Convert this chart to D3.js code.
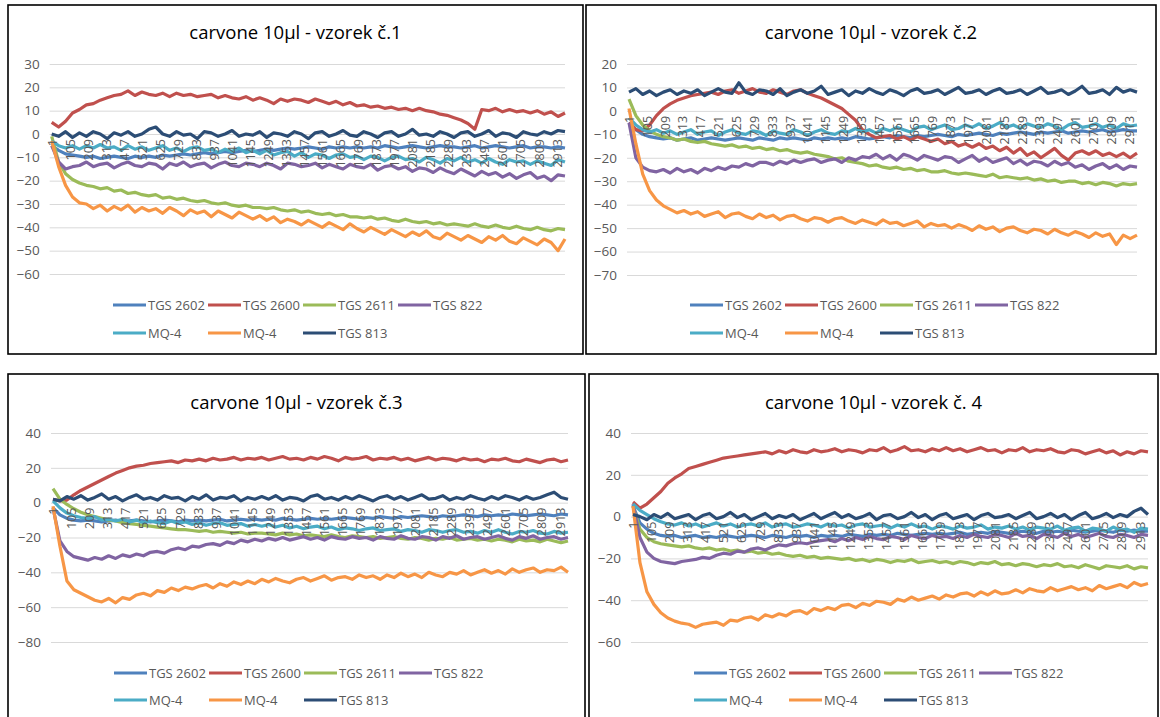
<!DOCTYPE html>
<html>
<head>
<meta charset="utf-8">
<title>carvone 10µl</title>
<script src="https://cdn.jsdelivr.net/npm/d3@7"></script>
<style>
  body { margin: 0; background: #fff; }
  text { font-family: "Open Sans", sans-serif; }
</style>
</head>
<body>
<script>
// series order matches the legend (Excel draws them in this order)
var seriesNames = ["TGS 2602", "TGS 2600", "TGS 2611", "TGS 822", "MQ-4", "MQ-4", "TGS 813"];
var seriesColors = ["#4F81BD", "#C0504D", "#9BBB59", "#8064A2", "#4BACC6", "#F79646", "#2C4D75"];

var xTickLabels = [1, 105, 209, 313, 417, 521, 625, 729, 833, 937, 1041, 1145, 1249, 1353, 1457,
  1561, 1665, 1769, 1873, 1977, 2081, 2185, 2289, 2393, 2497, 2601, 2705, 2809, 2913];
// measurement index of every sampled value (every 40th reading)
var sampleIndex = d3.range(75).map(function (k) { return 1 + 40 * k; });
var lastIndex = 2961;

// ---------- vzorek 1 ----------
var v1_2602 = [-5, -7, -8.5, -9, -9.5, -10, -9.5, -10.5, -10, -9.5, -10, -10.5, -9.5, -10, -9.5,
  -10, -9, -9.5, -9, -8.5, -9, -8.5, -8, -8.5, -8, -7.5, -8, -7.5, -7, -7.5,
  -7, -6.5, -7, -6.5, -6, -6.5, -6, -5.5, -6, -6.5, -5.5, -6, -5.5, -6, -5.5,
  -6, -5.5, -6, -5, -5.5, -6, -5.5, -5, -5.5, -6, -5.5, -5, -5.5, -5.5, -6,
  -5.5, -5, -6, -5.5, -5, -5.5, -6, -5.5, -5, -6, -5.5, -5.5, -6, -5.5, -6];
var v1_2600 = [5, 3, 5.5, 9, 10.5, 12.5, 13, 14.5, 15.5, 16.5, 17, 18.5, 16.5, 18, 17,
  16.5, 17.5, 16, 17.5, 16.5, 17, 16, 16.5, 17, 15.5, 16.5, 15.5, 15, 16, 14.5,
  15.5, 14.5, 13, 15, 14, 15, 14.5, 13.5, 15, 14, 13, 14, 12.5, 13.5, 12,
  12.5, 11.5, 12, 11, 11.5, 10.5, 11, 10, 11, 10, 9.5, 8.5, 8, 7, 6,
  4.5, 2, 10.5, 10, 11, 9.5, 10.5, 9.5, 10, 9, 10, 8.5, 9.5, 7.5, 9];
var v1_2611 = [-1, -12, -17, -19.5, -21, -22, -22.5, -23.5, -23, -24.5, -24, -25.5, -25, -26, -26.5,
  -26, -27.5, -27, -28, -27.5, -28.5, -29, -28.5, -29.5, -30, -29.5, -30.5, -31, -30.5, -31.5,
  -31.5, -32, -31.5, -32.5, -33, -32.5, -33.5, -33, -34, -34.5, -34, -35, -34.5, -35.5, -35.5,
  -36, -35.5, -36.5, -36, -37, -37.5, -36.5, -37.5, -38, -37.5, -38.5, -38, -39, -38.5, -39,
  -39.5, -38.5, -39.5, -40, -39, -40, -40.5, -39.5, -40.5, -41, -40, -41, -41.5, -40.5, -41];
var v1_822 = [-5, -12, -15, -14, -13.5, -12, -14, -13, -12.5, -14.5, -13, -12, -13.5, -14, -12.5,
  -13, -15, -12.5, -13.5, -12, -14, -13, -12.5, -14.5, -13, -12, -13.5, -14, -12.5, -13,
  -14, -12.5, -13.5, -15, -12.5, -13, -14, -13.5, -12.5, -14.5, -13, -14, -15, -13, -14,
  -14.5, -13, -15.5, -14, -13.5, -15, -14, -16, -14.5, -15, -16.5, -14.5, -16, -17, -15,
  -16.5, -18, -16, -17.5, -16.5, -18.5, -17, -19, -17.5, -16.5, -19, -18, -20, -17.5, -18];
var v1_mq4a = [-3, -5, -6, -5, -6.5, -5, -6, -4.5, -6, -5.5, -7, -5, -6.5, -5.5, -7,
  -6, -5, -7, -6, -7.5, -6, -5.5, -7, -6.5, -8, -6.5, -7.5, -6, -8, -7,
  -8.5, -7, -9, -8, -7.5, -9.5, -8, -10, -8.5, -9, -10.5, -9, -8.5, -10, -9.5,
  -11, -9.5, -10, -11.5, -10, -9.5, -11, -10.5, -12, -10, -11, -12.5, -10.5, -11.5, -10,
  -12, -11, -12.5, -10.5, -12, -13, -11, -12, -11.5, -13, -11.5, -12.5, -13.5, -11, -12];
var v1_mq4b = [-3, -14, -22, -27, -29.5, -30, -32, -30.5, -33, -31, -32.5, -30.5, -33.5, -31.5, -33,
  -32, -34, -31.5, -33, -35, -32.5, -34, -33, -35.5, -33, -34.5, -36, -33.5, -35, -36.5,
  -35, -37, -35.5, -38, -36.5, -37.5, -39, -37, -38.5, -40, -38, -39.5, -41, -38.5, -40.5,
  -42, -40, -41.5, -43, -41, -42.5, -44, -42, -43.5, -41.5, -44, -45, -42.5, -44, -45.5,
  -43.5, -45, -46.5, -44, -45.5, -43.5, -46, -47, -44.5, -46, -47.5, -45, -46.5, -50, -45];
var v1_813 = [0, -1, 1, -1.5, 0.5, -1, 1, 0, -2, 0.5, -0.5, 1, -1, 0, 2,
  3, 0, -1, 1, -0.5, 0, -2, 1, 0.5, -1, 0, 1.5, -1, 0, -0.5,
  1, -1.5, 0.5, 0, -1, 1, 0, -2, 0.5, 1, -1, 0, 1.5, -0.5, -1,
  1, 0, -1.5, 0.5, 1, -1, 0, 2, -0.5, 0, -1, 1, 0, -1.5, 0.5,
  1, -1, 0, 1.5, -1, 0.5, 0, -1.5, 1, 0, -0.5, 1, 0, 1.5, 1];

// ---------- vzorek 2 ----------
var v2_2602 = [-5, -8, -10, -11, -11.5, -12, -11.5, -12.5, -12, -11.5, -12.5, -12, -11.5, -12, -12.5,
  -12, -11.5, -12, -12.5, -11.5, -12, -12.5, -11.5, -12, -11.5, -12, -12.5, -11.5, -12, -11.5,
  -12, -11.5, -12, -11, -11.5, -12, -11.5, -11, -11.5, -10.5, -11, -11.5, -10.5, -11, -10.5,
  -10, -10.5, -11, -10, -10.5, -10, -9.5, -10, -10.5, -9.5, -10, -9.5, -9, -9.5, -10,
  -9, -9.5, -9, -8.5, -9.5, -9, -8.5, -9, -8.5, -8, -9, -8.5, -8, -8.5, -8.5];
var v2_2600 = [-5, -8, -8.5, -6, -2, 1, 3, 4.5, 5.5, 6.5, 7, 7.5, 8, 7, 8.5,
  9, 7.5, 8.5, 9.5, 8, 7.5, 9, 8, 7, 8.5, 9, 7.5, 6.5, 5.5, 4,
  2.5, 1, -1.5, -4, -8, -10, -11.5, -11, -10.5, -12, -11, -12.5, -11, -12, -13,
  -12, -14, -13, -15, -14, -15.5, -14, -16, -15, -17, -15.5, -18, -16, -19, -17.5,
  -20, -18, -16, -19, -21, -18, -17, -18.5, -17, -19, -18, -19.5, -18, -20, -18];
var v2_2611 = [5, -2, -6, -8.5, -10, -11, -11.5, -12.5, -12, -13, -13.5, -13, -14, -14.5, -15,
  -14.5, -15.5, -15, -16, -15.5, -16.5, -16, -17, -16.5, -17.5, -18, -17.5, -18.5, -19, -19.5,
  -20.5, -20, -21.5, -22, -22.5, -23.5, -23, -24, -24.5, -24, -25, -24.5, -25.5, -25, -26,
  -26, -25.5, -26.5, -27, -26.5, -27, -27.5, -28, -27, -28.5, -28, -28.5, -29, -28.5, -29.5,
  -29, -30, -29.5, -30.5, -30, -30, -31, -30.5, -31.5, -30.5, -31, -32, -31, -31.5, -31];
var v2_822 = [-5, -20, -24, -25.5, -26, -25, -26.5, -24.5, -26, -25, -26.5, -24.5, -25.5, -24, -25,
  -23.5, -24, -22.5, -23.5, -22, -22, -23, -21.5, -22.5, -21, -22, -21, -20.5, -22, -21,
  -20.5, -22, -20, -21, -19.5, -20, -18.5, -20.5, -19, -21, -18.5, -19.5, -21, -19, -20,
  -21, -19.5, -20, -22, -20.5, -19, -21.5, -20, -22, -21, -20, -22.5, -21, -23, -21.5,
  -22, -23.5, -21.5, -23, -22, -24, -23, -25, -23.5, -22.5, -24.5, -23, -25, -23.5, -24];
var v2_mq4a = [-3, -6, -8, -9, -8, -9.5, -8.5, -10, -9, -8, -10, -9, -8.5, -10.5, -9,
  -8, -9.5, -10, -8.5, -9, -10.5, -8.5, -9.5, -10, -8, -9, -10.5, -9, -8, -9.5,
  -10, -8.5, -9, -7.5, -9, -8, -9.5, -7.5, -8.5, -7, -8, -9, -7, -6.5, -8,
  -7, -6, -8, -7.5, -6, -7, -5.5, -7.5, -6.5, -5, -7, -6, -7.5, -5.5, -6.5,
  -7, -5.5, -6.5, -8, -6, -5, -7, -6.5, -5.5, -7, -6, -7.5, -5.5, -6.5, -6];
var v2_mq4b = [1, -14, -27, -34, -38, -40.5, -42, -43.5, -42.5, -44, -43, -45, -44, -43, -45.5,
  -44, -43.5, -45, -46, -44, -45.5, -44.5, -46.5, -45, -44.5, -46, -47, -45.5, -46, -47.5,
  -46, -45.5, -47, -48, -46.5, -47.5, -48.5, -46.5, -48, -47.5, -49, -48, -47, -49.5, -48,
  -49, -48.5, -50, -48.5, -49.5, -51, -49, -50.5, -49.5, -51.5, -50, -49.5, -51, -52, -50.5,
  -51, -52.5, -50.5, -52, -53, -51.5, -52.5, -54, -52, -53.5, -52.5, -57, -53, -54.5, -53];
var v2_813 = [8, 9.5, 7, 8.5, 6.5, 8, 9, 7, 8.5, 7.5, 9, 6.5, 8, 9.5, 8,
  7.5, 12, 8, 7, 9, 8.5, 7, 9.5, 6.5, 8, 9, 7.5, 8.5, 10.5, 7,
  8, 9, 6.5, 8.5, 7.5, 9.5, 8, 7, 9, 8, 6.5, 8.5, 9.5, 7.5, 8,
  9, 7, 8.5, 10, 7.5, 8, 9, 7, 8.5, 9.5, 7.5, 8, 9, 7, 8.5,
  10, 7.5, 8, 9, 7, 8.5, 10.5, 7.5, 8, 9, 7, 10, 8, 9, 8];

// ---------- vzorek 3 ----------
var v3_2602 = [-3, -7, -9, -10, -10.5, -10, -10.5, -11, -10.5, -10, -11, -10.5, -10, -10.5, -11,
  -10.5, -10, -10.5, -11, -10, -10.5, -10, -10.5, -10, -9.5, -10.5, -10, -9.5, -10, -9.5,
  -10, -9.5, -10, -9, -9.5, -10, -9.5, -9, -9.5, -9, -9.5, -9, -8.5, -9, -9.5,
  -8.5, -9, -8, -8.5, -9, -8, -8.5, -8, -7.5, -8, -8.5, -7.5, -8, -7.5, -7,
  -7.5, -8, -7, -7.5, -7, -7.5, -6.5, -7, -7.5, -7, -6.5, -7, -7.5, -6.5, -7];
var v3_2600 = [2, 1, 1.5, 4.5, 7, 9, 11, 13, 15, 17, 18.5, 20, 21, 21.5, 22.5,
  23, 23.5, 24, 23, 24.5, 24, 25, 24, 25.5, 24.5, 25, 26, 24.5, 25.5, 25,
  26, 24.5, 25.5, 26.5, 25, 25.5, 24.5, 26, 25, 26.5, 25.5, 24, 26, 25, 25.5,
  26.5, 24.5, 25.5, 25, 26, 24.5, 25.5, 24, 25, 26, 24.5, 25.5, 25, 24, 25.5,
  24.5, 25, 23.5, 25, 24.5, 25.5, 24, 23.5, 25, 24, 23, 24.5, 25, 23.5, 24.5];
var v3_2611 = [8, 2, -1, -3.5, -5.5, -7, -8, -9, -10, -10.5, -11.5, -12, -12.5, -13, -13.5,
  -14, -14.5, -15, -15.5, -15.5, -16, -16.5, -16, -17, -16.5, -17, -17.5, -17, -18, -17.5,
  -17.5, -18, -18.5, -17.5, -18.5, -18, -19, -18.5, -19, -19.5, -18.5, -19.5, -20, -19, -19.5,
  -20, -19.5, -20.5, -20, -19.5, -20.5, -21, -20, -20.5, -21.5, -20.5, -21, -20, -21.5, -21,
  -20.5, -21.5, -21, -22, -21, -21.5, -22.5, -21, -22, -21.5, -22.5, -21, -22, -23, -22];
var v3_822 = [-3, -22, -28, -31, -32, -33, -31.5, -32.5, -30.5, -32, -30, -31, -29.5, -30.5, -28.5,
  -28, -29, -27, -26, -27, -25, -25.5, -24, -23.5, -24.5, -22.5, -23.5, -21.5, -22.5, -21,
  -22, -20.5, -21.5, -20, -21.5, -20.5, -19.5, -21, -20, -21.5, -19.5, -20.5, -21, -19.5, -20.5,
  -20, -21.5, -19.5, -20.5, -21, -19, -20.5, -21, -19.5, -20, -21.5, -19.5, -20.5, -19, -21,
  -20, -19.5, -21, -20, -19, -20.5, -21.5, -19.5, -20.5, -19, -21, -20, -19.5, -21, -20];
var v3_mq4a = [1, -3, -6, -7.5, -8.5, -9, -8, -10, -9.5, -10.5, -9.5, -11, -10, -11.5, -10.5,
  -11.5, -12, -10.5, -12, -11, -12.5, -11.5, -13, -12, -11.5, -13, -12.5, -12, -13.5, -12.5,
  -13.5, -12.5, -14, -13, -14.5, -13.5, -15, -14, -13.5, -15, -14, -15.5, -14.5, -15, -16,
  -15, -14.5, -16, -15.5, -15, -16.5, -15.5, -16, -17, -15.5, -16, -17, -16, -15.5, -17,
  -16.5, -17.5, -16, -17, -15.5, -17, -18, -16.5, -17, -16, -17.5, -18, -16.5, -17.5, -17];
var v3_mq4b = [-2, -25, -45, -50, -52, -54, -56, -57, -55, -57.5, -54.5, -55.5, -53, -52, -53.5,
  -50.5, -51.5, -49, -50.5, -48.5, -49.5, -48, -47, -49, -46.5, -48, -45.5, -47, -45, -46.5,
  -44, -45.5, -43.5, -45, -46, -44, -43, -45, -43.5, -42, -44.5, -43, -42.5, -44, -41.5,
  -43, -42, -44, -41.5, -43, -40.5, -42.5, -41, -43, -40, -41.5, -42.5, -40, -41, -39,
  -41.5, -40, -38.5, -40.5, -39, -41, -38, -40, -38.5, -37.5, -40, -38.5, -39, -37, -40];
var v3_813 = [2, 1, 3.5, 2, 4, 1.5, 3, 5, 2, 3.5, 1, 3, 4.5, 2, 3,
  1.5, 4, 2.5, 3, 1, 3.5, 2, 4.5, 1.5, 3, 2.5, 4, 1, 3, 2,
  3.5, 2, 4, 1.5, 3, 2.5, 1, 3.5, 4.5, 2, 3, 1.5, 3.5, 2, 4,
  2.5, 1, 3, 4, 2, 3.5, 1.5, 3, 4.5, 2, 2.5, 4, 1.5, 3, 2,
  4, 2.5, 1.5, 3.5, 2, 4, 3, 1.5, 3.5, 2, 3, 4.5, 6, 3, 2];

// ---------- vzorek 4 ----------
var v4_2602 = [5, -3, -6, -8, -9, -9.5, -9, -10, -9.5, -9, -10, -9.5, -10, -9, -9.5,
  -10, -9.5, -9, -9.5, -10, -9, -9.5, -10, -9, -9.5, -9, -10, -9, -9.5, -9,
  -9.5, -8.5, -9, -9.5, -8.5, -9, -8.5, -9, -8, -8.5, -9, -8.5, -8, -8.5, -8,
  -8.5, -8, -7.5, -8.5, -8, -7.5, -8, -7, -7.5, -8, -7.5, -7, -7.5, -8, -7,
  -7.5, -7, -7.5, -6.5, -7, -7.5, -7, -6.5, -7, -7.5, -6.5, -7, -6.5, -7, -7];
var v4_2600 = [7, 4, 6, 9, 12, 16, 18.5, 20.5, 23, 24, 25, 26, 27, 28, 28.5,
  29, 29.5, 30, 30.5, 31, 30, 31.5, 30.5, 32, 31, 30.5, 32, 31, 31.5, 32.5,
  31, 32, 31.5, 30.5, 32, 31.5, 33, 31, 32, 33.5, 31.5, 32, 31, 32.5, 31.5,
  33, 31.5, 32.5, 31, 32, 33, 31.5, 32, 30.5, 32, 31.5, 33, 31, 32, 31.5,
  32.5, 31, 30.5, 32, 31.5, 30, 31, 32, 30.5, 31.5, 29.5, 31, 30, 31.5, 31];
var v4_2611 = [5, -6, -10, -12, -13, -13.5, -14, -14.5, -14, -15, -15.5, -15, -16, -15.5, -16.5,
  -16, -17, -16.5, -17.5, -17, -18, -17.5, -18.5, -19, -18.5, -19.5, -19, -20, -19.5, -20,
  -20.5, -20, -21, -20.5, -21.5, -20.5, -21, -22, -21, -21.5, -20.5, -22, -21.5, -21, -22,
  -21.5, -22.5, -21.5, -22, -23, -22, -22.5, -21.5, -23, -22.5, -23.5, -22.5, -23, -24, -23,
  -23.5, -22.5, -24, -23.5, -24.5, -23, -24, -25, -23.5, -24, -24.5, -23.5, -25, -24, -24.5];
var v4_822 = [6, -10, -17, -20, -21.5, -22, -22.5, -21.5, -21, -20.5, -19.5, -20, -18.5, -17.5, -18,
  -16.5, -17, -15.5, -15, -16, -14.5, -13.5, -14, -13, -12.5, -13, -12, -11.5, -11, -12,
  -10.5, -11.5, -10, -11, -9.5, -10.5, -11, -9.5, -10, -11, -9, -10, -10.5, -9, -10,
  -9.5, -10.5, -9, -10, -8.5, -9.5, -10, -8.5, -9, -10, -8, -9.5, -9, -10.5, -8.5,
  -9, -10, -8, -9.5, -8.5, -10, -9, -8, -9.5, -10, -8.5, -9, -10, -8.5, -9];
var v4_mq4a = [6, 3, 1, -1, -2.5, -3.5, -4, -3, -4.5, -3.5, -5, -4, -3, -4.5, -3.5,
  -5, -4, -3.5, -4.5, -3, -5, -4, -3.5, -5, -4.5, -3.5, -4, -5, -3.5, -4.5,
  -4, -5.5, -4, -3.5, -5, -4.5, -4, -5.5, -4, -5, -3.5, -5, -4.5, -6, -4.5,
  -5, -6, -4.5, -5.5, -5, -4, -6, -5, -5.5, -4.5, -6, -5, -6.5, -5, -5.5,
  -6, -4.5, -6.5, -5.5, -5, -7, -5.5, -6, -7, -5, -6.5, -6, -7.5, -5.5, -6];
var v4_mq4b = [5, -22, -36, -42, -46, -48.5, -50, -51, -51.5, -53, -51.5, -51, -50.5, -52, -49.5,
  -50, -48.5, -48, -49.5, -47, -48, -46.5, -47.5, -45.5, -45, -46.5, -44, -45, -43.5, -44.5,
  -42.5, -42, -43.5, -41.5, -42.5, -40.5, -41, -42, -39.5, -40.5, -38.5, -40, -39, -38, -39.5,
  -37.5, -38.5, -37, -36.5, -38, -36, -37.5, -35.5, -37, -36.5, -35, -36.5, -34.5, -35.5, -36,
  -34, -35.5, -34.5, -33.5, -35, -34, -35.5, -33, -34.5, -33.5, -32.5, -34, -31.5, -33, -32];
var v4_813 = [1, 0, -1.5, 1, -0.5, 1.5, -1, 0, 1, -1.5, 0.5, 1.5, -1, 0, 2,
  -0.5, 1, -1.5, 0, 1.5, -1, 0.5, -0.5, 1, -1.5, 0, 1.5, -1, 0.5, 2,
  -0.5, 1, -1, 0, 1.5, -1.5, 0.5, 1, -1, 0, 2, -0.5, 1, -1.5, 0.5,
  1.5, -1, 0, 1, -1.5, 0.5, 1.5, -0.5, 0, 1, -1, 0.5, 2, -1, 0,
  1.5, -0.5, 1, -1.5, 0.5, 2, -1, 0, 1.5, -0.5, 1, 0, 2.5, 4, 1];

var panels = [
  { title: "carvone 10µl - vzorek č.1", box: [8, 5, 575, 349], x0: 51.7, x1: 565, yTop: 64, yBot: 274,
    domain: [-60, 30], step: 10, titleY: 39, legX: 113, legY: [305, 333],
    series: [v1_2602, v1_2600, v1_2611, v1_822, v1_mq4a, v1_mq4b, v1_813] },
  { title: "carvone 10µl - vzorek č.2", box: [586, 5, 570, 349], x0: 629, x1: 1137, yTop: 64, yBot: 275,
    domain: [-70, 20], step: 10, titleY: 39, legX: 690, legY: [305, 333],
    series: [v2_2602, v2_2600, v2_2611, v2_822, v2_mq4a, v2_mq4b, v2_813] },
  { title: "carvone 10µl - vzorek č.3", box: [8, 374, 577, 350], x0: 53, x1: 568, yTop: 433, yBot: 642,
    domain: [-80, 40], step: 20, titleY: 409, legX: 114, legY: [673, 700],
    series: [v3_2602, v3_2600, v3_2611, v3_822, v3_mq4a, v3_mq4b, v3_813] },
  { title: "carvone 10µl - vzorek č. 4", box: [589, 374, 569, 350], x0: 633, x1: 1148, yTop: 433, yBot: 642,
    domain: [-60, 40], step: 20, titleY: 409, legX: 694, legY: [673, 700],
    series: [v4_2602, v4_2600, v4_2611, v4_822, v4_mq4a, v4_mq4b, v4_813] }
];

var svg = d3.select("body").append("svg")
  .attr("width", 1160)
  .attr("height", 717);

panels.forEach(function (p) {
  var g = svg.append("g");

  g.append("rect")
    .attr("x", p.box[0]).attr("y", p.box[1])
    .attr("width", p.box[2]).attr("height", p.box[3])
    .attr("fill", "#fff").attr("stroke", "#000").attr("stroke-width", 1.6);

  g.append("text")
    .attr("x", p.box[0] + p.box[2] / 2).attr("y", p.titleY)
    .attr("text-anchor", "middle")
    .attr("font-size", 18.5).attr("fill", "#000")
    .text(p.title);

  var x = d3.scaleLinear().domain([1, lastIndex]).range([p.x0, p.x1]);
  var y = d3.scaleLinear().domain(p.domain).range([p.yBot, p.yTop]);
  var yTicks = d3.range(p.domain[0], p.domain[1] + p.step / 2, p.step);

  // value axis with gridlines
  var yAxis = g.append("g")
    .attr("transform", "translate(" + p.x0 + ",0)")
    .call(d3.axisLeft(y).tickValues(yTicks).tickSize(-(p.x1 - p.x0 + 2)).tickPadding(12));
  yAxis.select(".domain").remove();
  yAxis.selectAll("line").attr("stroke", "#D9D9D9").attr("transform", "translate(-2,0)");
  yAxis.selectAll("text").attr("font-size", 13.5).attr("fill", "#595959")
    .style("font-family", "'Open Sans', sans-serif");

  // series
  var line = d3.line()
    .x(function (d, i) { return x(sampleIndex[i]); })
    .y(function (d) { return y(d); });

  p.series.forEach(function (vals, s) {
    g.append("path")
      .datum(vals)
      .attr("d", line)
      .attr("fill", "none")
      .attr("stroke", seriesColors[s])
      .attr("stroke-width", 3.2)
      .attr("stroke-linejoin", "round");
  });

  // category axis crossing at zero, rotated labels
  var xAxis = g.append("g")
    .attr("transform", "translate(0," + y(0) + ")")
    .call(d3.axisBottom(x).tickValues(xTickLabels).tickSize(0).tickFormat(d3.format("d")));
  xAxis.select(".domain").remove();
  xAxis.selectAll("text")
    .attr("font-size", 12.5).attr("fill", "#595959")
    .style("font-family", "'Open Sans', sans-serif")
    .attr("transform", "rotate(-90)")
    .attr("x", -5).attr("y", 0).attr("dy", "0.35em")
    .style("text-anchor", "end");

  // legend: two rows
  var legend = g.append("g");
  seriesNames.forEach(function (name, s) {
    var row = s < 4 ? 0 : 1;
    var col = s < 4 ? s : s - 4;
    var lx = p.legX + col * 95;
    var ly = p.legY[row];
    legend.append("line")
      .attr("x1", lx).attr("x2", lx + 33)
      .attr("y1", ly).attr("y2", ly)
      .attr("stroke", seriesColors[s]).attr("stroke-width", 3);
    legend.append("text")
      .attr("x", lx + 35).attr("y", ly).attr("dy", "0.35em")
      .attr("font-size", 13).attr("fill", "#595959")
      .text(name);
  });
});
</script>
</body>
</html>
